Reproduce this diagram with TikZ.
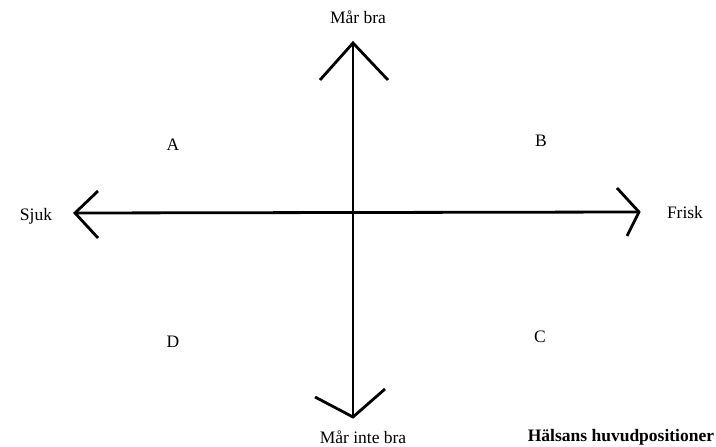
\documentclass[tikz,border=0pt]{standalone}
\usepackage{fontspec}
\setmainfont{Liberation Serif}
\begin{document}
\begin{tikzpicture}[x=1pt,y=-1pt,
  axis/.style={line width=2.8pt,black},
  head/.style={line width=2.8pt,black,line join=miter},
  lbl/.style={font=\fontsize{17.5}{20}\selectfont,inner sep=0pt},
  quad/.style={font=\fontsize{17.5}{20}\selectfont,inner sep=0pt}]
\useasboundingbox[fill=white] (0,0) rectangle (716,447);
% axis end points
\coordinate (top) at (353,43);
\coordinate (bot) at (353,417);
\coordinate (lft) at (75,213);
\coordinate (rgt) at (639,212);
% arrow arms
\coordinate (topL) at (320,80);
\coordinate (topR) at (388,80);
\coordinate (botL) at (315,397);
\coordinate (botR) at (385,389);
\coordinate (lftU) at (98,191);
\coordinate (lftD) at (98,238);
\coordinate (rgtU) at (617,188);
\coordinate (rgtD) at (627,236);
% axes
\draw[axis] (top) -- (bot);
\draw[axis] (lft) -- (rgt);
% heads
\draw[head] (topL) -- (top) -- (topR);
\draw[head] (botL) -- (bot) -- (botR);
\draw[head] (lftU) -- (lft) -- (lftD);
\draw[head] (rgtU) -- (rgt) -- (rgtD);
% labels
\node[lbl] (mbra) at (358,17) {Mår bra};
\node[lbl] (minte) at (363,437) {Mår inte bra};
\node[lbl] (sjuk) at (36,216) {Sjuk};
\node[lbl] (frisk) at (685,213) {Frisk};
\node[lbl,font=\fontsize{17.5}{20}\selectfont\bfseries] (title) at (621,437) {Hälsans huvudpositioner};
\node[quad] (A) at (173,145) {A};
\node[quad] (B) at (541,141) {B};
\node[quad] (C) at (540,337) {C};
\node[quad] (D) at (173,342) {D};
\end{tikzpicture}
\end{document}
